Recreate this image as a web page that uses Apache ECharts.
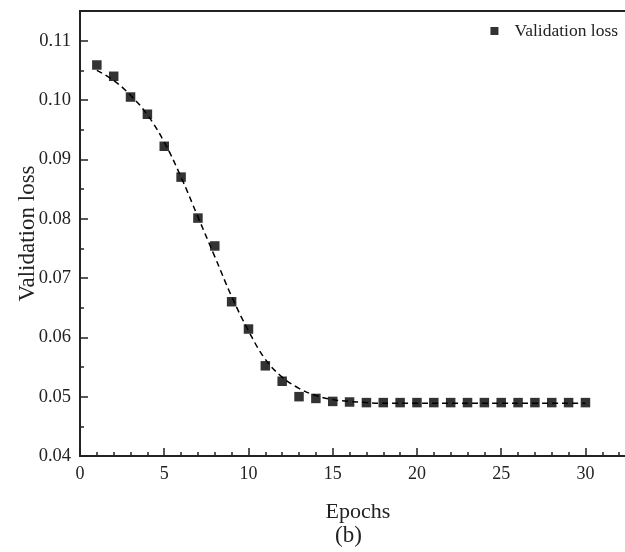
<!DOCTYPE html>
<html>
<head>
<meta charset="utf-8">
<script src="https://cdn.jsdelivr.net/npm/echarts@6/dist/echarts.min.js"></script>
<style>
html,body{margin:0;padding:0;overflow:hidden;background:#fff;}
#c{width:640px;height:552px;}
</style>
</head>
<body>
<div id="c"></div>
<script>
const epochs = [1,2,3,4,5,6,7,8,9,10,11,12,13,14,15,16,17,18,19,20,21,22,23,24,25,26,27,28,29,30];
const validationLoss = [0.1059,0.1040,0.1005,0.0976,0.0922,0.0870,0.0801,0.0754,0.0660,0.0614,0.0552,0.0526,0.0500,0.0497,0.0492,0.0491,0.0490,0.0490,0.0490,0.0490,0.0490,0.0490,0.0490,0.0490,0.0490,0.0490,0.0490,0.0490,0.0490,0.0490];
const fitLoss = [0.1050,0.1033,0.1008,0.0975,0.0929,0.0870,0.0803,0.0736,0.0669,0.0611,0.0563,0.0533,0.0514,0.0502,0.0495,0.0492,0.0490,0.0489,0.0489,0.0489,0.0489,0.0489,0.0489,0.0489,0.0489,0.0489,0.0489,0.0489,0.0489,0.0489];

const FONT = '"Liberation Serif", "Times New Roman", serif';
const AX = '#222';

const chart = echarts.init(document.getElementById('c'), null, {renderer:'canvas'});
chart.setOption({
  animation: false,
  backgroundColor: '#fff',
  grid: {left: 80, top: 11, right: 4, bottom: 96, show: true, borderColor: AX, borderWidth: 2, backgroundColor: 'transparent'},
  legend: {
    data: ['Validation loss'],
    right: 22, top: 22, padding: 0,
    icon: 'rect', itemWidth: 8, itemHeight: 8,
    textStyle: {fontFamily: FONT, fontSize: 17.5, color: '#222', padding: [0,0,0,11]}
  },
  xAxis: {
    type: 'value', min: 0, max: 33, interval: 5,
    name: 'Epochs', nameLocation: 'middle', nameGap: 45, nameMoveOverlap: false,
    nameTextStyle: {fontFamily: FONT, fontSize: 22, color: '#222'},
    axisLine: {show: true, onZero: false, lineStyle: {color: AX, width: 2}},
    axisTick: {show: true, inside: true, length: 8, lineStyle: {color: AX, width: 1.5}},
    minorTick: {show: true, splitNumber: 5, length: 4, lineStyle: {color: AX, width: 1.5}},
    axisLabel: {fontFamily: FONT, fontSize: 18, color: '#222', margin: 9, showMaxLabel: false},
    splitLine: {show: false}
  },
  yAxis: {
    type: 'value', min: 0.04, max: 0.115, interval: 0.01,
    name: 'Validation loss', nameLocation: 'middle', nameGap: 41, nameMoveOverlap: false,
    nameTextStyle: {fontFamily: FONT, fontSize: 23, color: '#222'},
    axisLine: {show: true, onZero: false, lineStyle: {color: AX, width: 2}},
    axisTick: {show: true, inside: true, length: 8, lineStyle: {color: AX, width: 1.5}},
    minorTick: {show: true, splitNumber: 2, length: 4, lineStyle: {color: AX, width: 1.5}},
    axisLabel: {fontFamily: FONT, fontSize: 18.5, color: '#222', margin: 9, showMaxLabel: false,
      formatter: v => v.toFixed(2)},
    splitLine: {show: false}
  },
  series: [
    {
      name: 'Fit', type: 'line', smooth: 0.4, showSymbol: false, z: 1,
      data: epochs.map((e,i) => [e, fitLoss[i]]),
      lineStyle: {color: '#000', width: 1.5, type: [6,4]}
    },
    {
      name: 'Validation loss', type: 'scatter', symbol: 'rect', symbolSize: 9.5, z: 3,
      data: epochs.map((e,i) => [e, validationLoss[i]]),
      itemStyle: {color: '#000'}
    }
  ],
  graphic: [
    {type: 'text', left: 350 - 15, top: 524, style: {text: '(b)', fontFamily: FONT, fontSize: 23, fill: '#222'}}
  ]
});
</script>
</body>
</html>
